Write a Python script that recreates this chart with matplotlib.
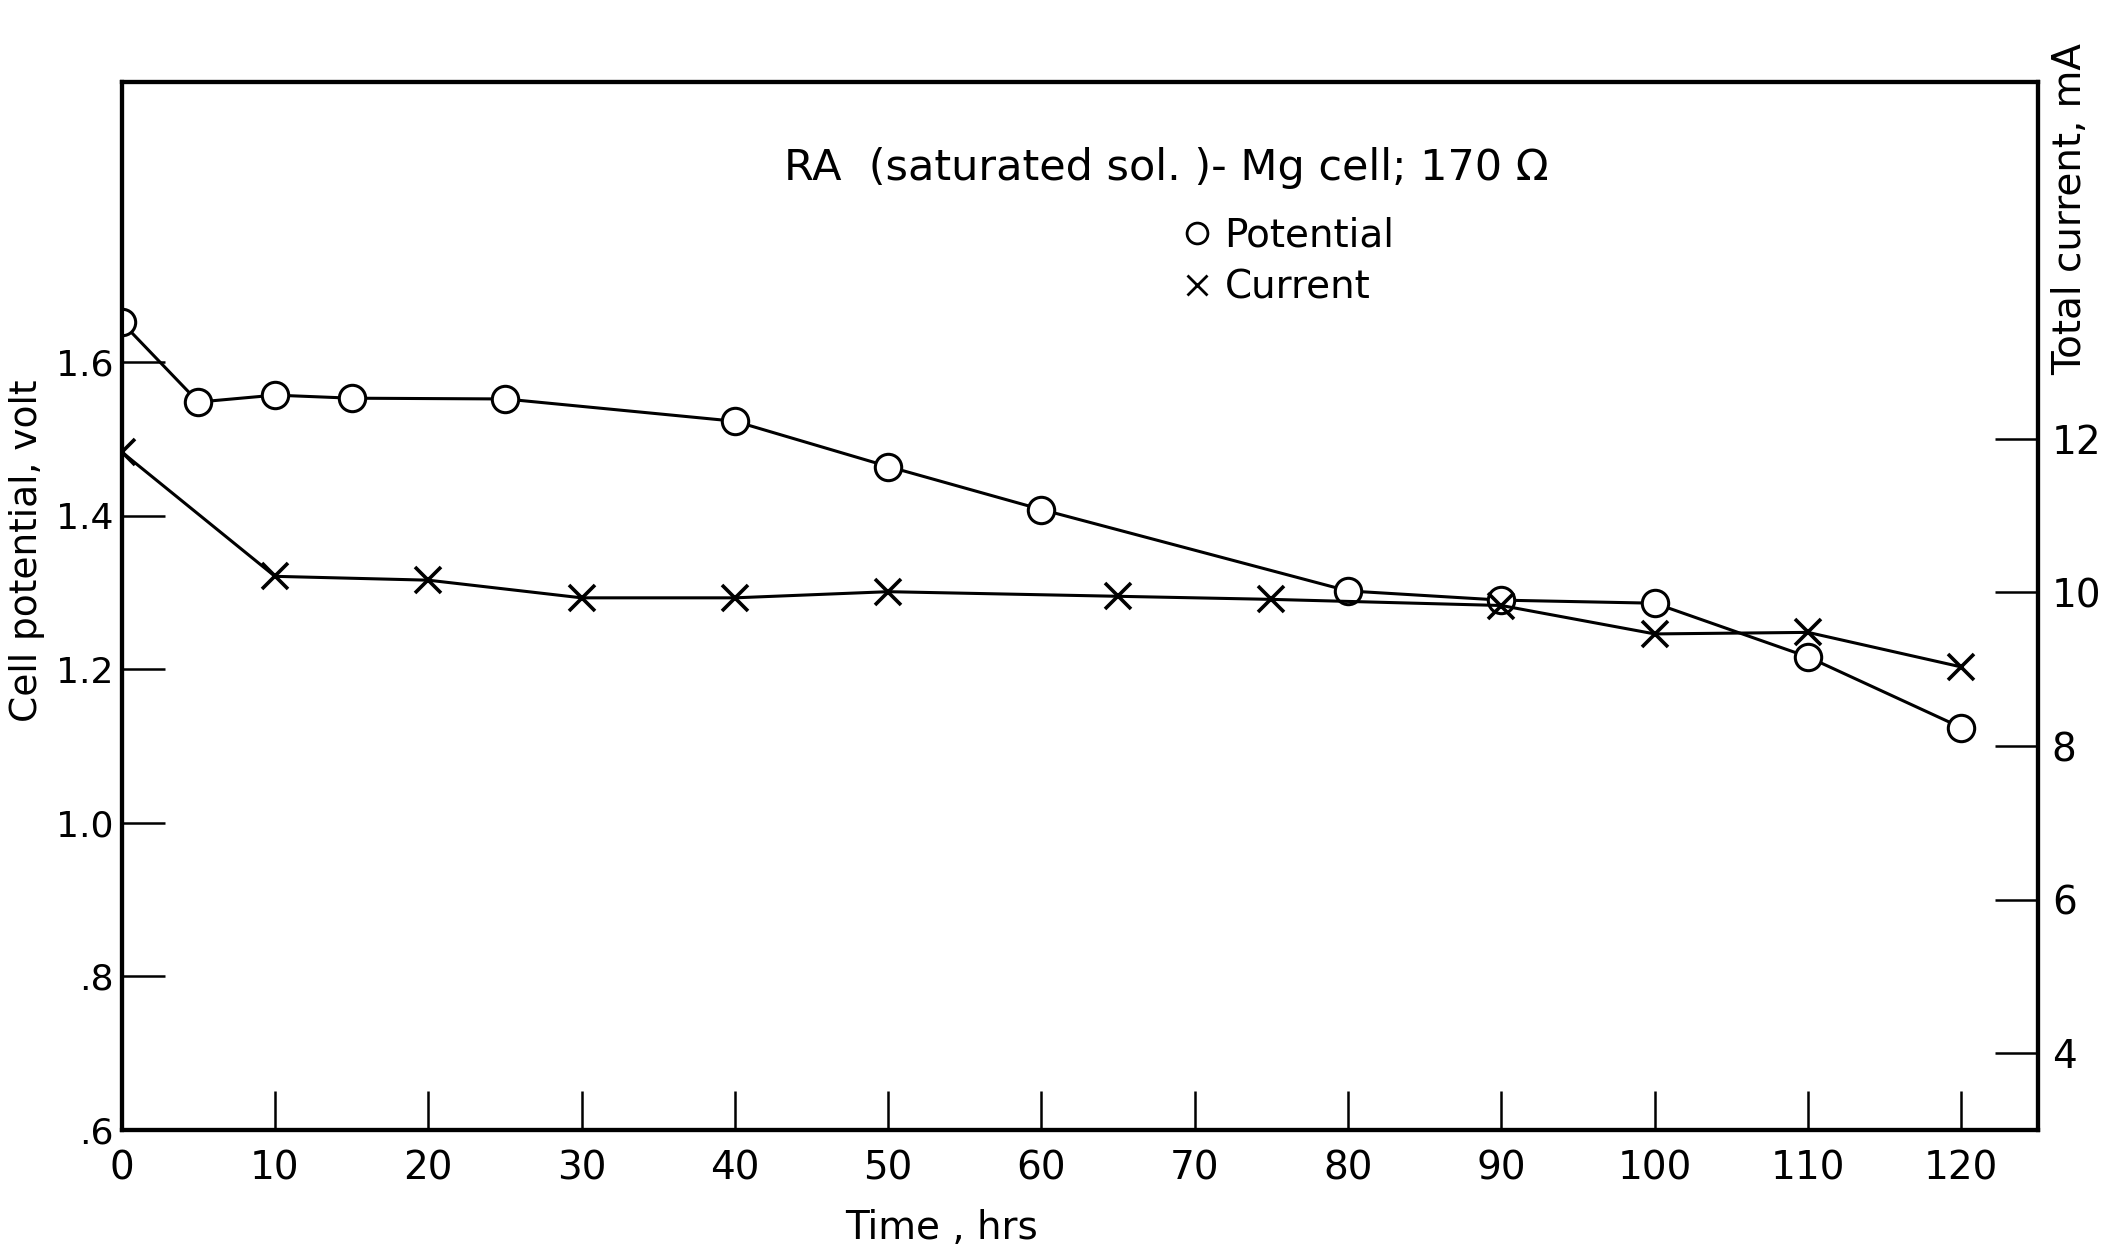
import numpy as np
import matplotlib
matplotlib.use("Agg")
import matplotlib.pyplot as plt
from matplotlib.lines import Line2D

# data
t_pot = [0, 5, 10, 15, 25, 40, 50, 60, 80, 90, 100, 110, 120]          # time [hrs]
potential = [1.652, 1.548, 1.557, 1.553, 1.552, 1.523, 1.464, 1.408,
             1.302, 1.290, 1.286, 1.216, 1.124]                         # cell potential [V]

t_cur = [0, 10, 20, 30, 40, 50, 65, 75, 90, 100, 110, 120]              # time [hrs]
current = [11.83, 10.21, 10.16, 9.93, 9.93, 10.01, 9.95, 9.91,
           9.83, 9.46, 9.48, 9.03]                                      # total current [mA]

x_ticks = [0, 10, 20, 30, 40, 50, 60, 70, 80, 90, 100, 110, 120]
v_ticks = [0.6, 0.8, 1.0, 1.2, 1.4, 1.6]
v_ticklabels = ['.6', '.8', '1.0', '1.2', '1.4', '1.6']
i_ticks = [4, 6, 8, 10, 12]

plt.rcParams['font.family'] = ['DejaVu Sans']
FS = 28

fig = plt.figure(figsize=(21.01, 12.59), dpi=100)
ax = fig.add_axes([0.0579, 0.1025, 0.9121, 0.8325])
ax2 = ax.twinx()

# potential (left axis)
ax.plot(t_pot, potential, color='black', lw=2.2, zorder=2)
ax.plot(t_pot, potential, 'o', ms=19, mfc='white', mec='black', mew=2.2, zorder=3)

# current (right axis)
ax2.plot(t_cur, current, color='black', lw=2.2, zorder=2)
ax2.plot(t_cur, current, 'x', ms=19, mec='black', mew=2.6, zorder=3)

ax.set_xlim(0, 125)
ax.set_ylim(0.6, 1.965)
ax2.set_ylim(3.0, 16.65)

ax.set_xticks(x_ticks)
ax.set_xticklabels([str(v) for v in x_ticks])
ax.set_yticks(v_ticks)
ax.set_yticklabels(v_ticklabels)
ax2.set_yticks(i_ticks)
ax2.set_yticklabels([str(v) for v in i_ticks])

ax.tick_params(axis='x', direction='in', length=28, width=1.8, labelsize=FS, pad=14)
ax.tick_params(axis='y', direction='in', length=31, width=1.8, labelsize=26, pad=6)
ax2.tick_params(axis='y', direction='in', length=31, width=1.8, labelsize=FS, pad=10)

for a in (ax, ax2):
    for s in a.spines.values():
        s.set_linewidth(3)

ax.set_xlabel('Time , hrs', fontsize=FS, va='center')
ax.xaxis.set_label_coords(0.428, -0.094)
ax.set_ylabel('Cell potential, volt', fontsize=27, va='center')
ax.yaxis.set_label_coords(-0.0492, 0.553)
ax2.set_ylabel('Total current, mA', fontsize=FS, va='center')
ax2.yaxis.set_label_coords(1.0167, 0.879)

ax.text(0.545, 0.918, 'RA  (saturated sol. )- Mg cell; 170 \u03a9',
        transform=ax.transAxes, fontsize=31, ha='center', va='center')

handles = [Line2D([], [], ls='none', marker='o', ms=15, mfc='white', mec='black', mew=2),
           Line2D([], [], ls='none', marker='x', ms=15, mec='black', mew=2)]
ax.legend(handles, ['Potential', 'Current'], loc='upper left',
          bbox_to_anchor=(0.545, 0.89), frameon=False, fontsize=FS,
          handlelength=0.6, handletextpad=0.4, labelspacing=0.35, borderpad=0)

fig.savefig('out.png', dpi=100)
